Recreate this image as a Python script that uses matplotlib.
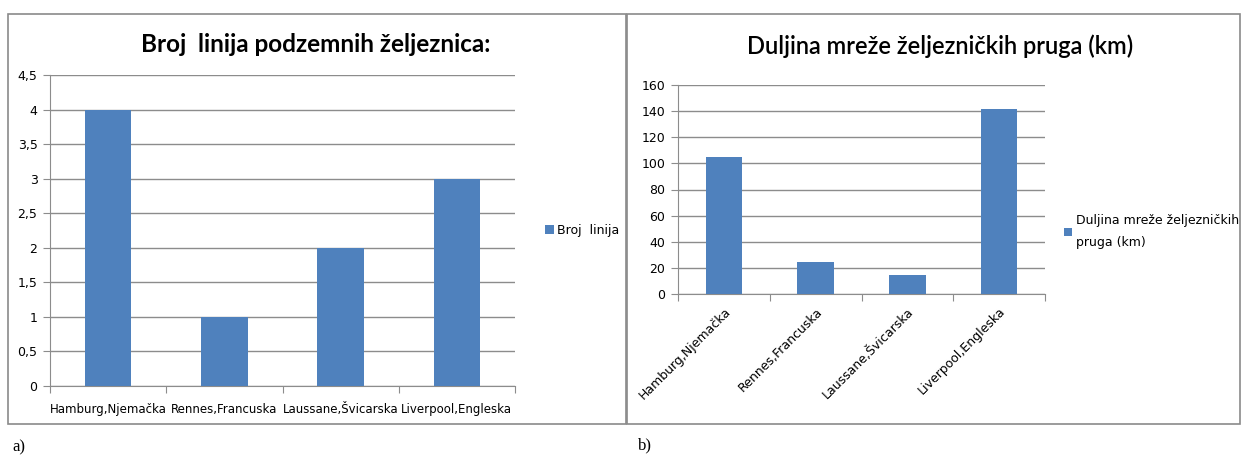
import matplotlib
matplotlib.use("Agg")
import matplotlib.pyplot as plt
from matplotlib.patches import Rectangle
import numpy as np

# data
cities = ["Hamburg,Njemačka", "Rennes,Francuska", "Laussane,Švicarska", "Liverpool,Engleska"]
broj_linija = [4, 1, 2, 3]
duljina_km = [105, 24.5, 14.5, 142]

a_yticks = [0, 0.5, 1, 1.5, 2, 2.5, 3, 3.5, 4, 4.5]
a_yticklabels = ["0", "0,5", "1", "1,5", "2", "2,5", "3", "3,5", "4", "4,5"]
b_yticks = [0, 20, 40, 60, 80, 100, 120, 140, 160]

BAR = "#4F81BD"
GRID = "#8C8C8C"
W, H = 1243, 457

plt.rcParams["font.family"] = ["Liberation Sans Narrow", "DejaVu Sans"]

fig = plt.figure(figsize=(W / 100, H / 100), dpi=100)


def px_box(x0, y0, x1, y1):
    """Axes rect from pixel coordinates (top-left origin)."""
    return [x0 / W, 1 - y1 / H, (x1 - x0) / W, (y1 - y0) / H]


def style_axes(ax, n):
    for s in ["top", "right"]:
        ax.spines[s].set_visible(False)
    for s in ["left", "bottom"]:
        ax.spines[s].set_color(GRID)
    ax.yaxis.grid(True, color=GRID, linewidth=1)
    ax.set_axisbelow(True)
    ax.set_xlim(-0.5, n - 0.5)
    ax.set_xticks(np.arange(n + 1) - 0.5, minor=False)
    ax.set_xticklabels([])
    ax.tick_params(axis="x", length=5, color=GRID, direction="out")
    ax.tick_params(axis="y", length=5, color=GRID, labelsize=9, pad=4)
    ax.set_xticks(np.arange(n), minor=True)
    ax.tick_params(axis="x", which="minor", length=0, labelsize=8.5)


# frame boxes
for x0, y0, x1, y1 in [(8, 14, 626, 424), (627, 14, 1240, 424)]:
    fig.patches.append(Rectangle((x0 / W, 1 - y1 / H), (x1 - x0) / W, (y1 - y0) / H,
                                 transform=fig.transFigure, fill=False,
                                 edgecolor="#8A8A8A", linewidth=1.2))

# chart a
ax1 = fig.add_axes(px_box(50, 75, 515, 386))
x = np.arange(len(cities))
ax1.bar(x, broj_linija, width=0.4, color=BAR, label="Broj  linija", zorder=3)
style_axes(ax1, len(cities))
ax1.set_ylim(0, 4.5)
ax1.set_yticks(a_yticks)
ax1.set_yticklabels(a_yticklabels)
ax1.set_xticklabels(cities, minor=True)
ax1.tick_params(axis="x", which="minor", pad=12)
fig.text(316 / W, 1 - 45 / H, "Broj  linija podzemnih željeznica:", ha="center", va="center",
         fontsize=17.5, fontweight="bold", family=["Lato", "DejaVu Sans"])
ax1.legend(loc="center left", bbox_to_anchor=(1.04, 0.5), frameon=False, fontsize=9,
           handlelength=0.7, handleheight=0.7, handletextpad=0.3)

# chart b
ax2 = fig.add_axes(px_box(678, 85, 1045, 294))
ax2.bar(x, duljina_km, width=0.4, color=BAR, label="Duljina mreže željezničkih\npruga (km)", zorder=3)
style_axes(ax2, len(cities))
ax2.set_ylim(0, 160)
ax2.set_yticks(b_yticks)
ax2.set_xticklabels(cities, minor=True, rotation=45, ha="right", rotation_mode="anchor")
ax2.tick_params(axis="x", which="minor", pad=8, labelsize=9)
fig.text(940 / W, 1 - 46 / H, "Duljina mreže željezničkih pruga (km)", ha="center", va="center",
         fontsize=17, fontweight="semibold", family=["Lato", "DejaVu Sans"])
leg = ax2.legend(loc="center left", bbox_to_anchor=(1.02, 0.3), frameon=False, fontsize=9,
                 handlelength=0.7, handleheight=0.7, handletextpad=0.3)
for t in leg.get_texts():
    t.set_linespacing(1.9)

fig.text(12 / W, 1 - 447 / H, "a)", ha="left", va="center", fontsize=12, family="Liberation Serif")
fig.text(638 / W, 1 - 445 / H, "b)", ha="left", va="center", fontsize=12, family="Liberation Serif")

fig.savefig("out.png", dpi=100)
